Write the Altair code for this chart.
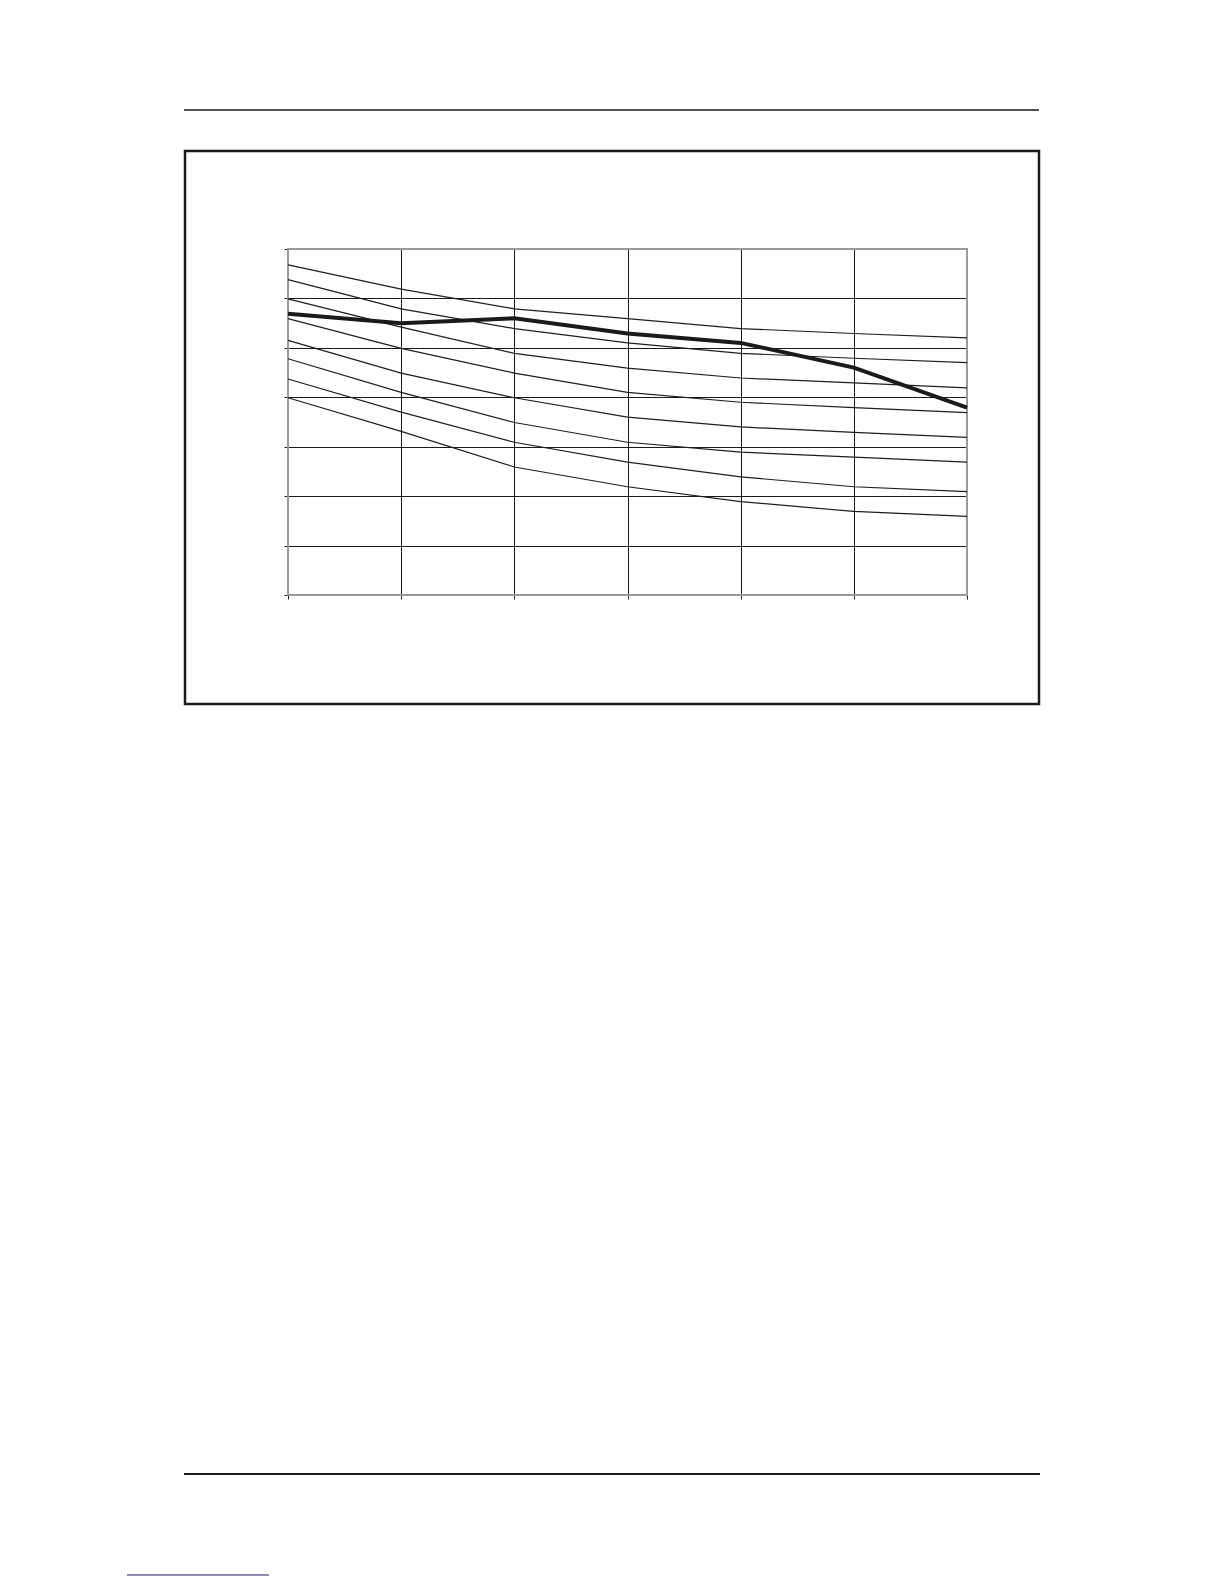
import altair as alt
import pandas as pd

# x positions (grid columns) and curve values (y in grid units, 0..7)
x_vals = [0, 1, 2, 3, 4, 5, 6]
c1 = [6.68, 6.19, 5.79, 5.59, 5.39, 5.29, 5.20]
c2 = [6.38, 5.79, 5.39, 5.10, 4.89, 4.79, 4.70]
c3 = [5.99, 5.42, 4.89, 4.59, 4.39, 4.29, 4.19]
c4 = [5.59, 4.99, 4.49, 4.10, 3.90, 3.79, 3.69]
c5 = [5.15, 4.49, 3.99, 3.60, 3.40, 3.29, 3.19]
c6 = [4.78, 4.10, 3.49, 3.09, 2.89, 2.79, 2.69]
c7 = [4.37, 3.70, 3.09, 2.69, 2.39, 2.19, 2.09]
c8 = [3.99, 3.31, 2.59, 2.19, 1.89, 1.69, 1.59]
thick = [5.69, 5.50, 5.60, 5.29, 5.10, 4.60, 3.79]

thin_series = {"c1": c1, "c2": c2, "c3": c3, "c4": c4,
               "c5": c5, "c6": c6, "c7": c7, "c8": c8}

rows = []
for name, vals in thin_series.items():
    for xv, yv in zip(x_vals, vals):
        rows.append({"x": xv, "y": yv, "series": name})
thin_df = pd.DataFrame(rows)
thick_df = pd.DataFrame({"x": x_vals, "y": thick})

W, H = 679, 346

xs = alt.Scale(domain=[0, 6], nice=False, zero=False)
ys = alt.Scale(domain=[0, 7], nice=False, zero=False)

x_axis = alt.Axis(values=[0, 1, 2, 3, 4, 5, 6], labels=False, title=None, domain=False,
                  grid=True, gridColor="#1a1a1a", gridWidth=1, gridOpacity=1,
                  ticks=True, tickSize=4, tickColor="#1a1a1a", tickWidth=1)
y_axis = alt.Axis(values=[0, 1, 2, 3, 4, 5, 6, 7], labels=False, title=None, domain=False,
                  grid=True, gridColor="#1a1a1a", gridWidth=1, gridOpacity=1,
                  ticks=True, tickSize=4, tickColor="#1a1a1a", tickWidth=1)

thin = alt.Chart(thin_df).mark_line(color="#1e1e1e", strokeWidth=1.2).encode(
    x=alt.X("x:Q", scale=xs, axis=x_axis),
    y=alt.Y("y:Q", scale=ys, axis=y_axis),
    detail="series:N",
)

bold = alt.Chart(thick_df).mark_line(color="#1a1a1a", strokeWidth=4).encode(
    x=alt.X("x:Q", scale=xs),
    y=alt.Y("y:Q", scale=ys),
)

# gray plot border drawn above the grid
border = alt.Chart().mark_rect(fill=None, fillOpacity=0, stroke="#999999", strokeWidth=2).encode(
    x=alt.value(0), x2=alt.value(W), y=alt.value(0), y2=alt.value(H))

# page decorations (pixel positions relative to the plot area)
top_rule = alt.Chart().mark_rule(color="#1a1a1a", strokeWidth=1.5).encode(
    x=alt.value(-104), x2=alt.value(751), y=alt.value(-139))
frame = alt.Chart().mark_rect(fill=None, fillOpacity=0, stroke="#1a1a1a", strokeWidth=2.5).encode(
    x=alt.value(-103), x2=alt.value(751), y=alt.value(-98), y2=alt.value(455))
bottom_rule = alt.Chart().mark_rule(color="#1a1a1a", strokeWidth=2).encode(
    x=alt.value(-104), x2=alt.value(752), y=alt.value(1225))
link_rule = alt.Chart().mark_rule(color="#1a1a7a", strokeWidth=1).encode(
    x=alt.value(-161), x2=alt.value(-19), y=alt.value(1326))

chart = alt.layer(frame, top_rule, bottom_rule, link_rule, border, thin, bold).properties(
    width=W, height=H,
    autosize=alt.AutoSizeParams(type="none"),
    padding={"left": 280, "top": 241, "right": 249, "bottom": 986},
).configure_view(stroke=None).configure(background="white")

chart.save("out.html", embed_options={"renderer": "svg", "actions": False})
